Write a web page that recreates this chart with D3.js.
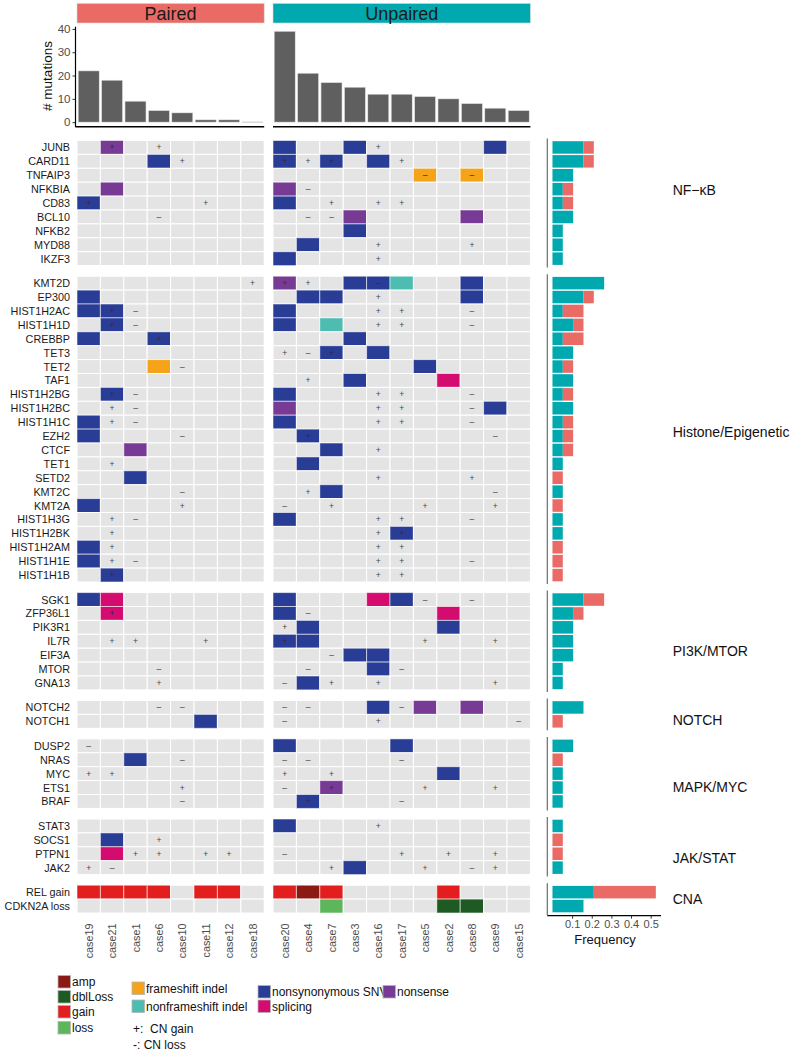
<!DOCTYPE html>
<html><head><meta charset="utf-8">
<script src="https://cdn.jsdelivr.net/npm/d3@7"></script>
<style>body{margin:0;background:#fff} text{font-family:"Liberation Sans",Arial,Helvetica,sans-serif}</style>
</head><body><svg id="c" width="799" height="1050"></svg>
<script>
// ---------------- DATA ----------------
const pairedCases = ["case19","case21","case1","case6","case10","case11","case12","case18"];
const unpairedCases = ["case20","case4","case7","case3","case16","case17","case5","case2","case8","case9","case15"];
const pairedMutations = [22,18,9,5,4,1,1,0];
const unpairedMutations = [39,21,17,15,12,12,11,10,8,6,5];
const mutTicks = [0,10,20,30,40];
const freqTicks = [0.1,0.2,0.3,0.4,0.5];
const groupNames = ["NF\u2212\u03BAB","Histone/Epigenetic","PI3K/MTOR","NOTCH","MAPK/MYC","JAK/STAT","CNA"];
const groupSizes = [9,22,7,2,5,4,2];
const genes = ["JUNB","CARD11","TNFAIP3","NFKBIA","CD83","BCL10","NFKB2","MYD88","IKZF3",
 "KMT2D","EP300","HIST1H2AC","HIST1H1D","CREBBP","TET3","TET2","TAF1","HIST1H2BG","HIST1H2BC","HIST1H1C","EZH2","CTCF","TET1","SETD2","KMT2C","KMT2A","HIST1H3G","HIST1H2BK","HIST1H2AM","HIST1H1E","HIST1H1B",
 "SGK1","ZFP36L1","PIK3R1","IL7R","EIF3A","MTOR","GNA13",
 "NOTCH2","NOTCH1",
 "DUSP2","NRAS","MYC","ETS1","BRAF",
 "STAT3","SOCS1","PTPN1","JAK2",
 "REL gain","CDKN2A loss"];
// one character per case (paired | unpaired); S=nonsynonymous SNV, N=nonsense, F=frameshift indel,
// I=nonframeshift indel, P=splicing, A=amp, D=dblLoss, G=gain, L=loss
const mutationCodes = [
 ".N......|S..S.....S.", "...S....|S.S.S......", "........|......F.F..", ".N......|N..........", "S.......|S..........",
 "........|...N....N..", "........|...S.......", "........|.S.........", "........|S..........",
 "........|N..SSI..S..", "S.......|.SS.....S..", "SS......|S..........", ".S......|S.I........", "S..S....|...S.......",
 "........|..S.S......", "...F....|......S....", "........|...S...P...", ".S......|S..........", "........|N........S.",
 "S.......|S..........", "S.......|.S.........", "..N.....|..S........", "........|.S.........", "..S.....|...........",
 "........|..S........", "S.......|...........", "........|S..........", "........|.....S.....", "S.......|...........",
 "S.......|...........", ".S......|...........",
 "SP......|S...PS.....", ".P......|S......P...", "........|.S.....S...", "........|SS.........", "........|...SS......",
 "........|....S......", "........|.S.........",
 "........|....S.N.N..", ".....S..|...........",
 "........|S....S.....", "..S.....|...........", "........|.......S...", "........|..N........", "........|.S.........",
 "........|S..........", ".S......|...........", ".P......|...........", "........|...S.......",
 "GGGG.GG.|GAG....G...", "........|..L....DD.."];
// copy-number marks: + = CN gain, - = CN loss
const copyNumberMarks = [
 ".+.+....|....+......", "....+...|+++..+.....", "........|......-.-..", "........|.-.........", "+....+..|..+.++.....",
 "...-....|.--........", "........|...........", "........|....+...+..", "........|....+......",
 ".......+|++..-......", "........|....+......", ".+-.....|....++..-..", ".+-.....|....++..-..", "...+....|...........",
 "........|+-+........", "....-...|...........", "........|.+.........", ".+-.....|....++..-..", ".+-.....|....++..-..",
 ".+-.....|....++..-..", "....-...|.+.......-.", "........|....+......", ".+......|...........", "........|....+...+..",
 "....-...|.+.......-.", "....+...|-.+...+..+.", ".+-.....|....++..-..", ".+......|....++.....", ".+......|....++.....",
 ".+-.....|....++..-..", ".+......|....++.....",
 "........|......-.-..", ".+......|.-.........", "........|+..........", ".++..+..|+.....+..+.", "........|..-........",
 "...-....|.-...-.....", "...+....|-.+.+....+.",
 "...--...|--...-.....", "........|-...+.....-",
 "-.......|...........", "....-...|--...-.....", "++......|+.+........", "....+...|-.+...+..+.", "....-...|.+...-.....",
 "........|....+......", "...+....|...........", "..++.++.|-....+.+.+.", "+-......|..+...+.-+.",
 "........|...........", "........|..........."];
// number of mutated cases per gene
const pairedHits = [1,1,0,1,1,0,0,0,0, 0,1,2,1,2,0,1,0,1,0,1,1,1,0,1,0,1,0,0,1,1,1, 2,1,0,0,0,0,0, 0,1, 0,1,0,0,0, 0,1,1,0, 6,0];
const unpairedHits = [3,3,2,1,1,2,1,1,1, 5,3,1,2,1,2,1,2,1,2,1,1,1,1,0,1,0,1,1,0,0,0, 3,2,2,2,2,1,1, 3,0, 2,0,1,1,1, 1,0,0,1, 4,3];
const totalCases = 19;
const typeCodes = ["A","D","G","L","F","I","S","P","N"];
const typeNames = ["amp","dblLoss","gain","loss","frameshift indel","nonframeshift indel","nonsynonymous SNV","splicing","nonsense"];

// ---------------- STYLE / LAYOUT ----------------
const typeColors = {A:"#8B1A14",D:"#1D5B22",G:"#E31E1E",L:"#5DB75A",F:"#F5A319",I:"#4DBDB2",S:"#2A3D96",P:"#D50C70",N:"#783B95"};
const pairedCol = "#EA6B66", unpairedCol = "#00A9B0";
const emptyCell = "#E4E4E4";
const groupLabelRow = [3.57, 11.2, 4.2, 1.37, 3.43, 2.79, 0.97];
const svg = d3.select("#c");

const panels = [
  {cases: pairedCases, vals: pairedMutations, x0: 77, x1: 264.2, label: "Paired", color: pairedCol},
  {cases: unpairedCases, vals: unpairedMutations, x0: 273, x1: 530.4, label: "Unpaired", color: unpairedCol}
];
panels.forEach(p => { p.xb = d3.scaleBand().domain(p.cases).range([p.x0, p.x1]); });

// ---------------- TOP BAR CHART ----------------
const yMut = d3.scaleLinear().domain([-1.95, 40.95]).range([126.7, 26.7]);
panels.forEach((p, pi) => {
  svg.append("rect").attr("x", p.x0).attr("y", 3.4).attr("width", p.x1 - p.x0).attr("height", 19.6)
    .attr("fill", p.color).attr("stroke", "#d9d9d9").attr("stroke-width", 0.6);
  svg.append("text").attr("x", (p.x0 + p.x1) / 2).attr("y", 13.6).attr("text-anchor", "middle")
    .attr("dominant-baseline", "central").attr("font-size", 18).attr("fill", "#1a1a1a").text(p.label);
  const bw = p.xb.bandwidth();
  p.cases.forEach((c, i) => {
    const v = p.vals[i];
    if (v > 0) {
      svg.append("rect").attr("x", p.xb(c) + bw * 0.05).attr("width", bw * 0.9)
        .attr("y", yMut(v)).attr("height", yMut(0) - yMut(v))
        .attr("fill", "#5f5f5f").attr("stroke", "#e8e8e8").attr("stroke-width", 0.6);
    } else {
      svg.append("line").attr("x1", p.xb(c) + bw * 0.05).attr("x2", p.xb(c) + bw * 0.95)
        .attr("y1", yMut(0)).attr("y2", yMut(0)).attr("stroke", "#cfcfcf").attr("stroke-width", 1.2);
    }
  });
  svg.append("line").attr("x1", pi === 0 ? 75.3 : p.x0).attr("x2", p.x1)
    .attr("y1", yMut.range()[0]).attr("y2", yMut.range()[0]).attr("stroke", "#000").attr("stroke-width", 1.6);
});
const yAxis = svg.append("g").attr("transform", "translate(75.5,0)")
  .call(d3.axisLeft(yMut).tickValues(mutTicks).tickSize(3).tickPadding(2));
yAxis.select(".domain").remove();
yAxis.selectAll(".tick line").attr("stroke", "#333");
yAxis.selectAll(".tick text").attr("font-size", 11.5).attr("fill", "#4d4d4d").attr("font-family", "Liberation Sans, Arial, sans-serif");
svg.append("line").attr("x1", 75.5).attr("x2", 75.5).attr("y1", yMut.range()[1]).attr("y2", yMut.range()[0])
  .attr("stroke", "#000").attr("stroke-width", 1.2);
svg.append("text").attr("transform", "translate(47,76) rotate(-90)").attr("text-anchor", "middle")
  .attr("dominant-baseline", "central").attr("font-size", 13.5).attr("fill", "#111").text("# mutations");

// ---------------- HEATMAP + FREQUENCY ----------------
const rowH = 13.9, groupGap = 10.6, top0 = 140.5;
const xFreq = d3.scaleLinear().domain([-0.0263, 0.5526]).range([547.3, 661]);
let yTop = top0, gi0 = 0;
groupSizes.forEach((n, g) => {
  const gGenes = genes.slice(gi0, gi0 + n);
  const yb = d3.scaleBand().domain(gGenes).range([yTop, yTop + n * rowH]);
  gGenes.forEach((gene, k) => {
    const idx = gi0 + k;
    const codes = mutationCodes[idx].split("|");
    const marks = copyNumberMarks[idx].split("|");
    panels.forEach((p, pi) => {
      p.cases.forEach((c, ci) => {
        const code = codes[pi][ci];
        const x = p.xb(c), w = p.xb.bandwidth();
        svg.append("rect").attr("x", x).attr("y", yb(gene)).attr("width", w).attr("height", yb.bandwidth())
          .attr("fill", code === "." ? emptyCell : typeColors[code])
          .attr("stroke", "#ffffff").attr("stroke-opacity", code === "." ? 1 : 0.55).attr("stroke-width", 1);
        const m = marks[pi][ci];
        if (m !== ".") {
          svg.append("text").attr("x", x + w / 2).attr("y", yb(gene) + yb.bandwidth() / 2)
            .attr("text-anchor", "middle").attr("dominant-baseline", "central")
            .attr("font-size", 8.5).attr("fill", code === "." ? "#444" : "#3b2050")
            .text(m === "+" ? "+" : "\u2013");
        }
      });
    });
    svg.append("text").attr("x", 70).attr("y", yb(gene) + yb.bandwidth() / 2).attr("text-anchor", "end")
      .attr("dominant-baseline", "central").attr("font-size", 10.8).attr("fill", "#1a1a1a").text(gene);
    // frequency bars (unpaired first, then paired stacked)
    const fu = unpairedHits[idx] / totalCases, fp = pairedHits[idx] / totalCases;
    const by = yb(gene) + yb.bandwidth() * 0.05, bh = yb.bandwidth() * 0.9;
    if (fu > 0) svg.append("rect").attr("x", xFreq(0)).attr("y", by).attr("width", xFreq(fu) - xFreq(0))
      .attr("height", bh).attr("fill", unpairedCol);
    if (fp > 0) svg.append("rect").attr("x", xFreq(fu)).attr("y", by).attr("width", xFreq(fu + fp) - xFreq(fu))
      .attr("height", bh).attr("fill", pairedCol);
  });
  svg.append("line").attr("x1", xFreq.range()[0]).attr("x2", xFreq.range()[0])
    .attr("y1", yTop - 2).attr("y2", yTop + n * rowH + 2).attr("stroke", "#6a6a6a").attr("stroke-width", 1.2);
  svg.append("text").attr("x", 672.7).attr("y", yTop + groupLabelRow[g] * rowH)
    .attr("dominant-baseline", "central").attr("font-size", 14).attr("fill", "#111").text(groupNames[g]);
  yTop += n * rowH + groupGap;
  gi0 += n;
});
const heatBottom = yTop - groupGap;

// frequency x axis
const fAxis = svg.append("g").attr("transform", `translate(0,${heatBottom + 2.6})`)
  .call(d3.axisBottom(xFreq).tickValues(freqTicks).tickFormat(d3.format(".1f")).tickSize(3).tickPadding(2));
fAxis.select(".domain").remove();
fAxis.selectAll(".tick line").attr("stroke", "#333");
fAxis.selectAll(".tick text").attr("font-size", 11).attr("fill", "#4d4d4d").attr("font-family", "Liberation Sans, Arial, sans-serif");
svg.append("line").attr("x1", xFreq.range()[0]).attr("x2", xFreq.range()[1])
  .attr("y1", heatBottom + 2.6).attr("y2", heatBottom + 2.6).attr("stroke", "#000").attr("stroke-width", 1.3);
svg.append("text").attr("x", 605).attr("y", heatBottom + 26).attr("text-anchor", "middle")
  .attr("dominant-baseline", "central").attr("font-size", 13).attr("fill", "#111").text("Frequency");

// case labels
panels.forEach(p => {
  p.cases.forEach(c => {
    const x = p.xb(c) + p.xb.bandwidth() / 2;
    svg.append("text").attr("transform", `translate(${x},${heatBottom + 10.5}) rotate(-90)`)
      .attr("text-anchor", "end").attr("dominant-baseline", "central")
      .attr("font-size", 10.8).attr("fill", "#4d4d4d").text(c);
  });
});

// ---------------- LEGEND ----------------
const legendPos = {
  A: [58, 975.5], D: [58, 990.5], G: [58, 1005.5], L: [58, 1021.5],
  F: [132, 982], I: [132, 1000],
  S: [258, 985.5], P: [258, 1000],
  N: [383, 985.5]
};
typeCodes.forEach((code, i) => {
  const [x, y] = legendPos[code];
  svg.append("rect").attr("x", x).attr("y", y).attr("width", 12.5).attr("height", 12.5)
    .attr("fill", typeColors[code]).attr("stroke", "#b5b5b5").attr("stroke-width", 0.8);
  svg.append("text").attr("x", x + 14).attr("y", y + 6.5).attr("dominant-baseline", "central")
    .attr("font-size", 12).attr("fill", "#111").text(typeNames[i]);
});
svg.append("text").attr("x", 133).attr("y", 1029).attr("dominant-baseline", "central")
  .attr("font-size", 12).attr("fill", "#111").attr("xml:space", "preserve").text("+:  CN gain");
svg.append("text").attr("x", 133).attr("y", 1044.5).attr("dominant-baseline", "central")
  .attr("font-size", 12).attr("fill", "#111").text("-: CN loss");
</script></body></html>
